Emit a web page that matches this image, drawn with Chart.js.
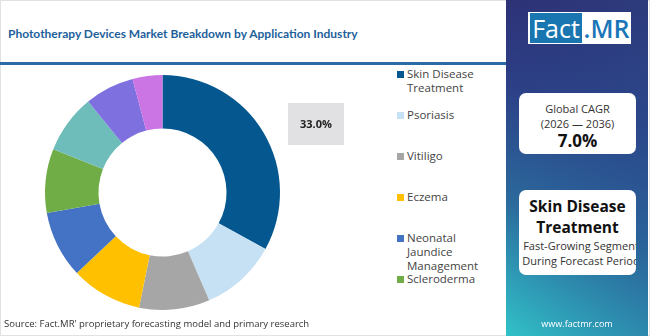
<!DOCTYPE html>
<html>
<head>
<meta charset="utf-8">
<script src="https://cdn.jsdelivr.net/npm/chart.js@4.4.0/dist/chart.umd.min.js"></script>
<style>
  html, body { margin: 0; padding: 0; }
  body { width: 650px; height: 336px; position: relative; overflow: hidden; background: #fff; font-family: "Open Sans", sans-serif; }
  #frame { position: absolute; left: 0; top: 0; width: 648px; height: 334px; border: 1px solid #e2e2e2; }
  #title { position: absolute; left: 8px; top: 26px; font: bold 12px Lato, sans-serif; color: #1d5f9b; white-space: nowrap; }
  #rule { position: absolute; left: 0; top: 62px; width: 507px; height: 3px; background: #2b6ca8; }
  #wrap { position: absolute; left: 0; top: 64px; width: 380px; height: 272px; }
  #legend { position: absolute; left: 396px; top: 67px; width: 108px; height: 222px; overflow: hidden; }
  .item { position: relative; height: 41px; font-size: 11.5px; line-height: 14px; color: #444; padding-left: 11px; width: 84px; }
  .item span.sw { position: absolute; left: 1px; top: 4px; width: 7px; height: 7px; }
  #source { position: absolute; left: 4px; top: 317px; font-size: 9.5px; color: #333; white-space: nowrap; }
  #panel { position: absolute; left: 506px; top: 0; width: 142px; height: 336px;
    background: linear-gradient(200deg, #2f2a6e 0%, #2c3f86 35%, #2b6a9c 65%, #2f9fb8 85%, #31c2c8 100%); overflow: hidden; }
  #panel .shade { position: absolute; inset: 0; background: linear-gradient(90deg, rgba(50,200,205,0.0) 0%, rgba(40,90,150,0.35) 100%); }
  #logo { position: absolute; left: 22px; top: 12px; width: 103px; height: 32px; background: #fff; }
  #logo .fact { position: absolute; left: 2px; top: 1px; width: 52px; height: 30px; background: #1a76b0; color: #fff; font: 25px "Open Sans", sans-serif; line-height: 30px; text-align: center; }
  #logo .mr { position: absolute; left: 54px; top: 1px; width: 49px; height: 30px; color: #1a76b8; font: 600 25px "Open Sans", sans-serif; line-height: 30px; text-align: center; }
  .card { position: absolute; left: 13px; width: 117px; background: #fff; border-radius: 7px; overflow: hidden; text-align: center; color: #222; }
  #cagr { top: 93px; height: 61px; }
  #cagr .l { font-size: 11px; line-height: 15px; color: #333; }
  #cagr .v { font: bold 17px "Open Sans", sans-serif; line-height: 20px; color: #111; }
  #seg { top: 190px; height: 85px; }
  #seg .h { font: bold 15.5px "Open Sans", sans-serif; line-height: 21px; color: #111; }
  #seg .s { font-size: 11px; line-height: 15px; color: #333; white-space: nowrap; width: 132px; margin-left: -4px; }
  #web { position: absolute; left: 0; width: 142px; top: 317px; text-align: center; color: #fff; font-size: 9px; }
</style>
</head>
<body>
<div id="frame"></div>
<div id="title">Phototherapy Devices Market Breakdown by Application Industry</div>
<div id="rule"></div>
<div id="wrap"><canvas id="chart"></canvas></div>
<div id="legend"></div>
<div id="source">Source: Fact.MR' proprietary forecasting model and primary research</div>
<div id="panel">
  <div class="shade"></div>
  <div id="logo"><div class="fact">Fact</div><div class="mr">.MR</div></div>
  <div class="card" id="cagr">
    <div class="l" style="margin-top:8px">Global CAGR</div>
    <div class="l">(2026 — 2036)</div>
    <div class="v">7.0%</div>
  </div>
  <div class="card" id="seg">
    <div class="h" style="margin-top:6px">Skin Disease</div>
    <div class="h">Treatment</div>
    <div class="s">Fast-Growing Segment</div>
    <div class="s">During Forecast Period</div>
  </div>
  <div id="web">www.factmr.com</div>
</div>

<script>
let categories = ["Skin Disease Treatment", "Psoriasis", "Vitiligo", "Eczema",
  "Neonatal Jaundice Management", "Scleroderma", "Atopic Dermatitis", "Acne", "Others"];
let shares = [33.0, 10.5, 9.7, 9.8, 9.2, 8.8, 8.1, 6.8, 4.1];
let colors = ['#04578f', '#c5e1f3', '#a6a6a6', '#ffc000', '#4472c4', '#70ad47', '#6fbdbb', '#7f70e0', '#cb74e3'];

// html legend, the box clips the last ones like the original
let legend = document.getElementById('legend');
categories.forEach((c, i) => {
  let d = document.createElement('div');
  d.className = 'item';
  d.innerHTML = '<span class="sw" style="background:' + colors[i] + '"></span>' + c;
  legend.appendChild(d);
});

let topLabel = {
  id: 'topLabel',
  afterDraw(chart) {
    let ctx = chart.ctx;
    ctx.save();
    ctx.fillStyle = '#e1e1e3';
    ctx.fillRect(288, 39, 56, 42);
    ctx.fillStyle = '#222';
    ctx.font = 'bold 11px "Open Sans", sans-serif';
    ctx.textAlign = 'center';
    ctx.textBaseline = 'middle';
    ctx.fillText(shares[0].toFixed(1) + '%', 316, 61);
    ctx.restore();
  }
};

let myChart = new Chart(document.getElementById('chart').getContext('2d'), {
  type: 'doughnut',
  data: {
    labels: categories,
    datasets: [{
      data: shares,
      backgroundColor: colors,
      borderWidth: 0
    }]
  },
  options: {
    responsive: true,
    maintainAspectRatio: false,
    animation: false,
    cutout: '54.5%',
    layout: { padding: { left: 45, right: 100, top: 11, bottom: 26 } },
    plugins: {
      legend: { display: false },
      tooltip: { enabled: false }
    }
  },
  plugins: [topLabel]
});
</script>
</body>
</html>
